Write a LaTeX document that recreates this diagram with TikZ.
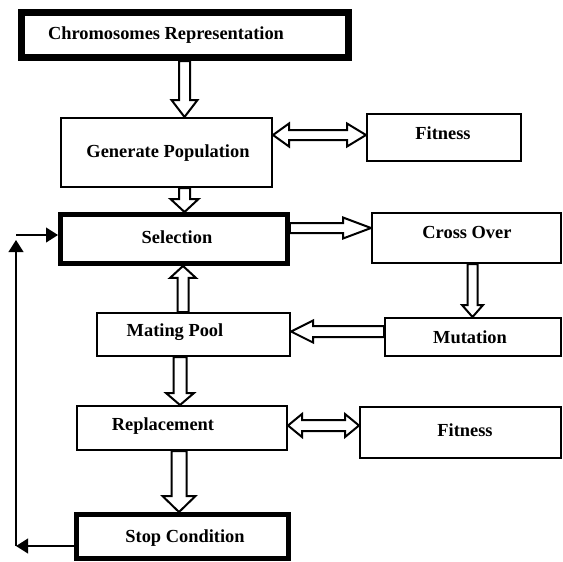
\documentclass[tikz,border=0pt]{standalone}
\usepackage{fontspec}
\setmainfont{Liberation Serif}
\usetikzlibrary{calc,arrows.meta,backgrounds}
\tikzset{
  box/.style={draw, fill=white, line width=1.5pt, inner sep=0pt},
  thickbox/.style={box, line width=4.1pt},
  lbl/.style={font=\fontsize{13.8}{16}\selectfont\bfseries, inner sep=0pt},
  hollowarrow/.style={draw, fill=white, line width=1.5pt, line join=miter},
  blk/.style={line width=1.5pt, -{Triangle[length=9pt,width=11pt]}},
}
\begin{document}
\begin{tikzpicture}[x=0.75pt, y=-0.75pt]
\useasboundingbox (0,0) rectangle (563,561);

% boxes (sizes in pt = px * 0.75)
\node[thickbox, line width=5.25pt, minimum width=245.25pt, minimum height=33.75pt] (chrom) at (185,35) {};
\node[box, minimum width=158.25pt, minimum height=51.75pt] (gen) at (166.5,152.5) {};
\node[box, minimum width=115.5pt, minimum height=35.25pt] (fit1) at (444,137.5) {};
\node[thickbox, minimum width=169.875pt, minimum height=36.375pt] (sel) at (174,239) {};
\node[box, minimum width=141.75pt, minimum height=37.5pt] (cross) at (466.5,238) {};
\node[box, minimum width=144.75pt, minimum height=32.25pt] (mate) at (193.5,334.5) {};
\node[box, minimum width=132pt, minimum height=28.5pt] (mut) at (473,337) {};
\node[box, minimum width=157.5pt, minimum height=33pt] (repl) at (182,428) {};
\node[box, minimum width=150.75pt, minimum height=38.25pt] (fit2) at (460.5,432.5) {};
\node[thickbox, minimum width=158.625pt, minimum height=32.625pt] (stop) at (182.5,536.5) {};

% labels
\node[lbl] (tchrom) at (166,35) {Chromosomes Representation};
\node[lbl] (tgen) at (168,153) {Generate Population};
\node[lbl] (tfit1) at (443,133) {Fitness};
\node[lbl] (tsel) at (177,237) {Selection};
\node[lbl] (tcross) at (467,232) {Cross Over};
\node[lbl] (tmate) at (175,332) {Mating Pool};
\node[lbl] (tmut) at (470,337) {Mutation};
\node[lbl] (trepl) at (163,426) {Replacement};
\node[lbl] (tfit2) at (465,430) {Fitness};
\node[lbl] (tstop) at (185,538) {Stop Condition};

% end points of the hollow arrows
\coordinate (a1t) at (chrom.south -| 184.5,0);
\coordinate (a1p) at (gen.north -| 184.5,0);
\coordinate (a2t) at (gen.south -| 184.5,0);
\coordinate (a2p) at (sel.north -| 184.5,0);
\coordinate (a3t) at (sel.east |- 0,228);
\coordinate (a3p) at (cross.west |- 0,228);
\coordinate (a4t) at (cross.south -| 472.5,0);
\coordinate (a4p) at (mut.north -| 472.5,0);
\coordinate (a5t) at (mut.west |- 0,331.5);
\coordinate (a5p) at (mate.east |- 0,331.5);
\coordinate (a6t) at (mate.north -| 183,0);
\coordinate (a6p) at (sel.south -| 183,0);
\coordinate (a7t) at (mate.south -| 180,0);
\coordinate (a7p) at (repl.north -| 180,0);
\coordinate (a8t) at (repl.south -| 179,0);
\coordinate (a8p) at (stop.north -| 179,0);
\coordinate (d1a) at (gen.east |- 0,135);
\coordinate (d1b) at (fit1.west |- 0,135);
\coordinate (d2a) at (repl.east |- 0,425.5);
\coordinate (d2b) at (fit2.west |- 0,425.5);

\begin{scope}[on background layer]
  % Chromosomes -> Generate
  \draw[hollowarrow] ($(a1t)+(-5.5,0)$) -- ($(a1p)+(-5.5,-17)$) -- ($(a1p)+(-13,-17)$) -- (a1p)
    -- ($(a1p)+(13,-17)$) -- ($(a1p)+(5.5,-17)$) -- ($(a1t)+(5.5,0)$) -- cycle;
  % Generate -> Selection
  \draw[hollowarrow] ($(a2t)+(-5.5,0)$) -- ($(a2p)+(-5.5,-13)$) -- ($(a2p)+(-14,-13)$) -- (a2p)
    -- ($(a2p)+(14,-13)$) -- ($(a2p)+(5.5,-13)$) -- ($(a2t)+(5.5,0)$) -- cycle;
  % Selection -> Cross Over
  \draw[hollowarrow] ($(a3t)+(0,-5)$) -- ($(a3p)+(-28,-5)$) -- ($(a3p)+(-28,-10.5)$) -- (a3p)
    -- ($(a3p)+(-28,10.5)$) -- ($(a3p)+(-28,5)$) -- ($(a3t)+(0,5)$) -- cycle;
  % Cross Over -> Mutation
  \draw[hollowarrow] ($(a4t)+(-5,0)$) -- ($(a4p)+(-5,-12)$) -- ($(a4p)+(-10.5,-12)$) -- (a4p)
    -- ($(a4p)+(10.5,-12)$) -- ($(a4p)+(5,-12)$) -- ($(a4t)+(5,0)$) -- cycle;
  % Mutation -> Mating Pool
  \draw[hollowarrow] ($(a5t)+(0,-5.5)$) -- ($(a5p)+(22,-5.5)$) -- ($(a5p)+(22,-11)$) -- (a5p)
    -- ($(a5p)+(22,11)$) -- ($(a5p)+(22,5.5)$) -- ($(a5t)+(0,5.5)$) -- cycle;
  % Mating Pool -> Selection
  \draw[hollowarrow] ($(a6t)+(-5.5,0)$) -- ($(a6p)+(-5.5,12)$) -- ($(a6p)+(-13,12)$) -- (a6p)
    -- ($(a6p)+(13,12)$) -- ($(a6p)+(5.5,12)$) -- ($(a6t)+(5.5,0)$) -- cycle;
  % Mating Pool -> Replacement
  \draw[hollowarrow] ($(a7t)+(-6.5,0)$) -- ($(a7p)+(-6.5,-12)$) -- ($(a7p)+(-14,-12)$) -- (a7p)
    -- ($(a7p)+(14,-12)$) -- ($(a7p)+(6.5,-12)$) -- ($(a7t)+(6.5,0)$) -- cycle;
  % Replacement -> Stop Condition
  \draw[hollowarrow] ($(a8t)+(-7.5,0)$) -- ($(a8p)+(-7.5,-16)$) -- ($(a8p)+(-16.5,-16)$) -- (a8p)
    -- ($(a8p)+(16.5,-16)$) -- ($(a8p)+(7.5,-16)$) -- ($(a8t)+(7.5,0)$) -- cycle;
  % Generate <-> Fitness
  \draw[hollowarrow] (d1a) -- ($(d1a)+(16,-11.5)$) -- ($(d1a)+(16,-5)$) -- ($(d1b)+(-19,-5)$)
    -- ($(d1b)+(-19,-11.5)$) -- (d1b) -- ($(d1b)+(-19,11.5)$) -- ($(d1b)+(-19,5)$)
    -- ($(d1a)+(16,5)$) -- ($(d1a)+(16,11.5)$) -- cycle;
  % Replacement <-> Fitness
  \draw[hollowarrow] (d2a) -- ($(d2a)+(14,-11.5)$) -- ($(d2a)+(14,-5.5)$) -- ($(d2b)+(-14,-5.5)$)
    -- ($(d2b)+(-14,-11.5)$) -- (d2b) -- ($(d2b)+(-14,11.5)$) -- ($(d2b)+(-14,5.5)$)
    -- ($(d2a)+(14,5.5)$) -- ($(d2a)+(14,11.5)$) -- cycle;
\end{scope}

% feedback loop
\coordinate (bl) at (16,546);
\coordinate (vt) at (16,240);
\coordinate (tl) at (16,235);
\draw[blk] (stop.west |- bl) -- (bl);
\draw[blk] (bl) -- (vt);
\draw[blk] (tl) -- (tl -| sel.west);
\end{tikzpicture}
\end{document}
